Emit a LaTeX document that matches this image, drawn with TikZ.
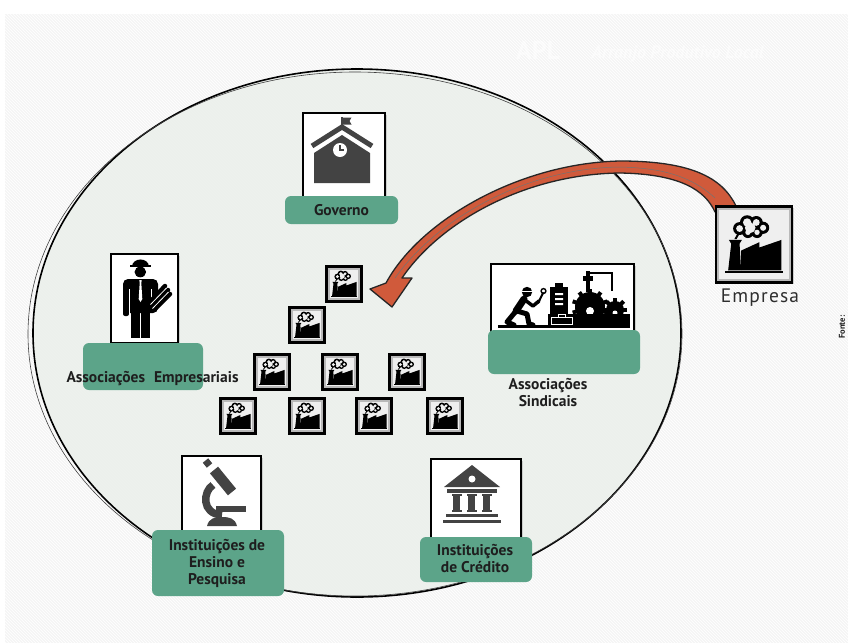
\documentclass[tikz,border=0pt]{standalone}
\usepackage{fontspec}
\setmainfont{PT Sans}
\newfontfamily\spacedfont{PT Sans}[LetterSpace=6]
\usetikzlibrary{calc,shadows,patterns}

\definecolor{paper}{HTML}{F5F5F5}
\definecolor{disc}{HTML}{ECF0EC}
\definecolor{tagfill}{HTML}{5CA489}
\definecolor{ink}{HTML}{1E1E1E}
\definecolor{glyph}{HTML}{434343}
\definecolor{flow}{HTML}{D05A3B}
\definecolor{panel}{HTML}{EFEFEF}

% factory silhouette in a unit box (-0.5..0.5), y pointing down
\newcommand\factoryglyph{%
  \fill[black] (-0.19,-0.21) circle (0.085) (-0.09,-0.29) circle (0.095)
               (0.03,-0.29) circle (0.085) (0.12,-0.22) circle (0.08)
               (0.04,-0.16) circle (0.075) (-0.08,-0.16) circle (0.075);
  \fill[panel] (-0.19,-0.21) circle (0.045) (-0.09,-0.29) circle (0.055)
               (0.03,-0.29) circle (0.045) (0.12,-0.22) circle (0.04)
               (0.04,-0.16) circle (0.035) (-0.08,-0.16) circle (0.035)
               (-0.05,-0.22) circle (0.07);
  \fill[black] (-0.22,-0.14) -- (-0.19,-0.14) -- (-0.23,-0.07) -- (-0.26,-0.07) -- cycle;
  \fill[black] (-0.34,0.34) -- (-0.30,-0.01) -- (-0.33,-0.06) -- (-0.16,-0.06)
               -- (-0.19,-0.01) -- (-0.17,0.34) -- cycle;
  \fill[black] (-0.17,0.34) -- (-0.17,0.08) -- (0.07,-0.03) -- (0.07,0.04)
               -- (0.36,-0.06) -- (0.36,0.34) -- cycle;
  \fill[black] (-0.38,0.35) rectangle (0.38,0.38);
}

% gear centred on a point: radius, number of teeth
\newcommand\gearat[3]{%
  \fill (#1) circle (#2);
  \foreach \gk in {1,...,#3}{
    \fill[rotate around={360/#3*\gk:(#1)}] ($(#1)+(-2,-#2-3.2)$) rectangle ($(#1)+(2,-#2+1)$);
  }
}

\begin{document}
\begin{tikzpicture}[x=1pt,y=-1pt,
  iconbox/.style={draw=black, line width=2.6pt, fill=white, inner sep=0pt,
    drop shadow={shadow xshift=1.5pt, shadow yshift=-1.5pt, opacity=0.3}},
  factorybox/.style={draw=black, line width=2.3pt, fill=panel, inner sep=0pt,
    minimum width=#1, minimum height=#1,
    drop shadow={shadow xshift=1.6pt, shadow yshift=-1.6pt, opacity=0.35}},
  tag/.style={fill=tagfill, rounded corners=6pt, inner sep=0pt},
  tagtext/.style={text=ink, font=\fontsize{15.5}{17}\selectfont\bfseries, align=center},
]
\useasboundingbox (0,0) rectangle (848,643);

% paper
\fill[white] (0,0) rectangle (848,643);
\fill[paper] (5,14) rectangle (848,643);
\fill[pattern=north west lines, pattern color=white] (5,14) rectangle (848,643);

% faint title
\node[text=white, text opacity=0.5, font=\fontsize{26}{28}\selectfont\bfseries] (apl) at (538,50) {APL};
\node[text=white, text opacity=0.5, font=\fontsize{18}{20}\selectfont\bfseries\itshape, anchor=west] (aplname) at (588,54) {Arranjo Produtivo Local};

% the territory
\filldraw[fill=disc, fill opacity=0.9, draw=black, line width=1.6pt] (357,333) ellipse [x radius=324, y radius=264];
\draw[black!75, line width=0.6pt] (355,334) ellipse [x radius=327, y radius=262];

% ---------- Governo ----------
\node[iconbox, minimum width=82, minimum height=84] (gov) at (344,155) {};
\fill[glyph] (341,117) rectangle (342.6,130);
\fill[glyph] (342.6,117.5) -- (351.5,117.5) -- (349.5,121) -- (351.5,124.5) -- (342.6,124.5) -- cycle;
\draw[glyph, line width=5pt, line join=miter] (312,146) -- (342,127) -- (372,146);
\fill[glyph] (314,183) -- (314,153) -- (342,135) -- (370,153) -- (370,183) -- cycle;
\fill[white] (340,150) circle (7);
\draw[glyph, line width=1.4pt] (340,145) -- (340,150) -- (344,150);
\node[tag, minimum width=113, minimum height=28] (govtag) at (341.5,210) {};
\node[tagtext] (govtext) at (govtag) {Governo};

% ---------- Associações Empresariais ----------
\node[iconbox, minimum width=67, minimum height=89] (pers) at (144.5,298.5) {};
\fill (131.5,266.5) .. controls (131.5,256.5) and (148.5,256.5) .. (148.5,266.5) -- cycle;
\fill (129.5,265) rectangle (150.5,267.3);
\fill (140.3,272) ellipse [x radius=5.8, y radius=5.3];
\fill[rounded corners=5pt] (123,313) -- (123,279) -- (158,279) -- (158,313) -- cycle;
\fill[rounded corners=2pt] (123,300) rectangle (129,316);
\draw[white, line width=0.9pt] (129.8,289) -- (129.8,316);
\draw[white, line width=0.9pt] (151.2,289) -- (151.2,302);
\fill (131,312) rectangle (139.5,338);
\fill (141,312) rectangle (149.5,338);
\fill[white] (139.3,280) -- (141.7,280) -- (141.3,283) -- (142.3,299) -- (140.5,302) -- (138.7,299) -- (139.7,283) -- cycle;
\draw[line width=4.5pt, line cap=round] (150,302) -- (165,286) (152,306) -- (168,290) (154,310) -- (170,294);
\draw[white, line width=0.8pt] (150.5,304.5) -- (166.5,288) (152.5,308.5) -- (168.5,292);
\node[tag, minimum width=120, minimum height=47] (perstag) at (143,366.5) {};
\node[tagtext, anchor=west] (perstext) at (63,379) {Associações\hspace{9pt}Empresariais};

% ---------- Associações Sindicais ----------
\node[iconbox, minimum width=143, minimum height=68] (sind) at (562.5,298) {};
\fill (527,292) circle (5.2);
\draw[white, line width=0.8pt] (521.5,291) -- (532.5,291);
\draw[line width=7pt, line cap=round] (524,299) -- (516,311);
\draw[line width=5pt, line cap=round, line join=round] (516,311) -- (507,322) -- (514,325);
\draw[line width=5pt, line cap=round, line join=round] (517,311) -- (527,314) -- (529,324) -- (533,325);
\draw[line width=3.5pt, line cap=round, line join=round] (525,300) -- (533,306) -- (539,301);
\draw[line width=2pt, line cap=round] (538,303) -- (543,293);
\draw[line width=1.4pt] (543.5,291) circle (2.4);
\fill (550,287) rectangle (568,318);
\fill (555,283) rectangle (563,288);
\fill[white] (555,293) rectangle (563,295) (555,298) rectangle (563,300) (555,303) rectangle (563,305);
\draw[line width=2pt] (590,273) -- (612,273) -- (612,291);
\fill (583,276) rectangle (593,281);
\fill (586,271) rectangle (590,292);
\gearat{590,307}{15}{10}
\gearat{615,310}{9}{8}
\fill[white] (590,311) circle (4);
\fill[white] (615,313) circle (2.5);
\fill (548,314) rectangle (630,326);
\draw[white, line width=0.9pt] (551,317) rectangle (572,324);
\draw[white, line width=0.9pt] (558,317) -- (558,314.5) -- (565,314.5) -- (565,317);
\fill (498,325) rectangle (630,327.5);
\node[tag, minimum width=152, minimum height=44] (sindtag) at (564,352) {};
\node[tagtext] (sindtext) at (548,392.5) {Associações\\Sindicais};

% ---------- Instituições de Ensino e Pesquisa ----------
\node[iconbox, minimum width=79, minimum height=92] (micro) at (221.5,502) {};
\draw[glyph, line width=10.5pt] (214,470) -- (232,492);
\draw[glyph, line width=7pt] (205.5,460.5) -- (209.5,465.5);
\draw[glyph, line width=7.5pt] (213,485) .. controls (203,491) and (201,514) .. (222,515);
\fill[glyph] (216,506) rectangle (246,511.5);
\fill[glyph] (207,526) .. controls (209,518) and (215,517) .. (222,517) .. controls (229,517) and (235,518) .. (237,526) -- cycle;
\node[tag, minimum width=132, minimum height=66] (microtag) at (218,563) {};
\node[tagtext] (microtext) at (217,563) {Instituições de\\Ensino e\\Pesquisa};

% ---------- Instituições de Crédito ----------
\node[iconbox, minimum width=90, minimum height=86] (bank) at (476,502) {};
\fill[glyph] (444,487) -- (472,465) -- (500,487) -- cycle;
\fill[white] (472,479) circle (3.5);
\fill[glyph] (447,489) rectangle (497,493);
\foreach \cx in {456.7,471.7,486.7}{
  \fill[glyph] (\cx-3.4,494) rectangle (\cx+3.4,512);
  \fill[glyph] (\cx-5,494) rectangle (\cx+5,496);
  \fill[glyph] (\cx-5,510) rectangle (\cx+5,512);
}
\fill[glyph] (446,514) rectangle (498,517);
\fill[glyph] (443,520) rectangle (501,523);
\node[tag, minimum width=112, minimum height=45] (banktag) at (476,559.5) {};
\node[tagtext] (banktext) at (475,558.5) {Instituições\\de Crédito};

% ---------- firms of the cluster ----------
\node[factorybox=35] (f1) at (344,284) {};
\node[factorybox=35] (f2) at (307,325) {};
\node[factorybox=35] (f3) at (272,372) {};
\node[factorybox=35] (f4) at (340,372) {};
\node[factorybox=35] (f5) at (407,372) {};
\node[factorybox=35] (f6) at (238,416) {};
\node[factorybox=35] (f7) at (307,416) {};
\node[factorybox=35] (f8) at (374,416) {};
\node[factorybox=35] (f9) at (445,416) {};

% ---------- incoming firm ----------
\coordinate (tailout) at (736,206);
\coordinate (tailin) at (715,212);
\coordinate (neckl) at (386,283);
\coordinate (neckr) at (402,278);
\coordinate (wingl) at (370,289);
\coordinate (wingr) at (412,278);
\coordinate (arrowtip) at (392,307);
\filldraw[fill=flow, draw=black!85, line width=1.3pt, line join=round]
  (tailout) .. controls (722,177) and (690,161) .. (620,161)
  .. controls (520,163) and (420,220) .. (neckl)
  -- (wingl) -- (arrowtip) -- (wingr) -- (neckr)
  .. controls (440,222) and (525,174) .. (620,173)
  .. controls (680,174) and (705,190) .. (tailin) -- cycle;
\draw[black!55, line width=0.5pt] (715,198) .. controls (690,175) and (660,168) .. (620,167)
  .. controls (530,168) and (440,215) .. (395,278);

\node[factorybox=76] (emp) at (754,244.5) {};
\node[text=black!82, font=\fontsize{19.5}{22}\selectfont\spacedfont, anchor=north] (emptext) at (760,285) {Empresa};

% frames and silhouettes of the firm icons
\foreach \fn/\fs in {f1/35,f2/35,f3/35,f4/35,f5/35,f6/35,f7/35,f8/35,f9/35,emp/76}{
  \draw[gray!55, line width=2pt]
    ($(\fn.south west)+(3.4pt,3.4pt)$) rectangle ($(\fn.north east)+(-3.4pt,-3.4pt)$);
  \begin{scope}[shift={(\fn.center)}, scale=\fs]
    \factoryglyph
  \end{scope}
}

% source note at the edge
\node[rotate=90, font=\fontsize{8.5}{10}\selectfont\bfseries, text=ink] (src) at (842,327) {Fonte:};
\end{tikzpicture}
\end{document}
